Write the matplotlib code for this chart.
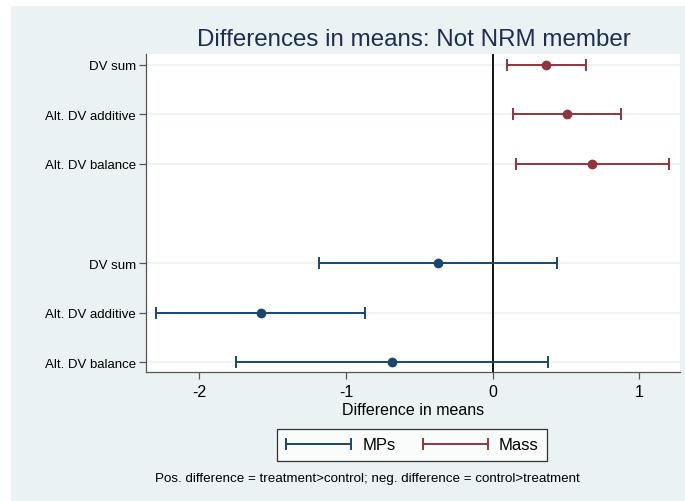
import numpy as np
import matplotlib.pyplot as plt
from matplotlib.patches import Rectangle
from matplotlib.container import ErrorbarContainer
from matplotlib.legend_handler import HandlerErrorbar

plt.rcParams['font.family'] = ['Liberation Sans', 'DejaVu Sans']

# etykiety wierszy (od gory) i pozycje na osi y
labels = ['DV sum', 'Alt. DV additive', 'Alt. DV balance',
          'DV sum', 'Alt. DV additive', 'Alt. DV balance']
rows = [0, 1, 2, 4, 5, 6]

# Mass (czerwone) - srednia oraz granice przedzialu
mass_est = [0.364, 0.509, 0.678]
mass_lo = [0.10, 0.141, 0.160]
mass_hi = [0.635, 0.877, 1.200]

# MPs (granatowe)
mps_est = [-0.375, -1.581, -0.688]
mps_lo = [-1.185, -2.292, -1.751]
mps_hi = [0.438, -0.872, 0.375]

xticks = [-2, -1, 0, 1]

navy = '#1A476F'
red = '#90353B'
bg = '#EAF2F3'

fig = plt.figure(figsize=(6.85, 5.02), dpi=100)
fig.patches.append(Rectangle((11 / 685, -0.1), 2, 1.1 - 7 / 502, transform=fig.transFigure,
                             facecolor=bg, edgecolor='none', zorder=-10))

ax = fig.add_axes([0.2127, 0.257, 0.78, 0.6334])
ax.set_facecolor('white')

ax.errorbar(mass_est, rows[:3],
            xerr=[[e - l for e, l in zip(mass_est, mass_lo)], [h - e for e, h in zip(mass_est, mass_hi)]],
            fmt='o', color=red, ms=6, elinewidth=1.4, capsize=4, capthick=1.4, zorder=3)
ax.errorbar(mps_est, rows[3:],
            xerr=[[e - l for e, l in zip(mps_est, mps_lo)], [h - e for e, h in zip(mps_est, mps_hi)]],
            fmt='o', color=navy, ms=6, elinewidth=1.4, capsize=4, capthick=1.4, zorder=3)

ax.axvline(0, color='black', lw=1.3, zorder=2)

ax.set_ylim(6.2, -0.22)
ax.set_xlim(-2.365, 1.277)
ax.set_yticks(rows)
ax.set_yticklabels(labels, fontsize=9.5)
ax.set_xticks(xticks)
ax.set_xticklabels([str(t) for t in xticks], fontsize=11.5)
ax.set_xlabel('Difference in means', fontsize=11.5, labelpad=2)
for y in rows:
    ax.axhline(y, color=bg, lw=1.2, zorder=1)

for s in ['top', 'right']:
    ax.spines[s].set_visible(False)
for s in ['left', 'bottom']:
    ax.spines[s].set_color('#555555')
    ax.spines[s].set_linewidth(0.9)
ax.tick_params(axis='both', colors='#555555', labelcolor='black', length=5, width=0.9)
ax.tick_params(axis='y', pad=2)

fig.text(414 / 685, 1 - 40 / 502, 'Differences in means: Not NRM member',
         ha='center', va='center', fontsize=17.4, color='#1E2D53')

# legenda z samymi slupkami bledu (punkty NaN, tylko jako uchwyty)
h1 = ax.errorbar([np.nan], [np.nan], xerr=[1], fmt='none', color=navy,
                 elinewidth=1.4, capsize=4, capthick=1.4)
h2 = ax.errorbar([np.nan], [np.nan], xerr=[1], fmt='none', color=red,
                 elinewidth=1.4, capsize=4, capthick=1.4)
leg = fig.legend([h1, h2], ['MPs', 'Mass'], loc='center', bbox_to_anchor=(412 / 685, 1 - 446 / 502),
                 ncol=2, fontsize=12, frameon=True, fancybox=False, edgecolor='black',
                 handlelength=4.0, handletextpad=0.6, columnspacing=1.6, borderpad=0.5,
                 handler_map={ErrorbarContainer: HandlerErrorbar(xerr_size=1.95)})
leg.get_frame().set_linewidth(0.9)

fig.text(367 / 685, 1 - 479 / 502,
         'Pos. difference = treatment>control; neg. difference = control>treatment',
         ha='center', va='center', fontsize=9.6)

plt.savefig('out.png', dpi=100)
